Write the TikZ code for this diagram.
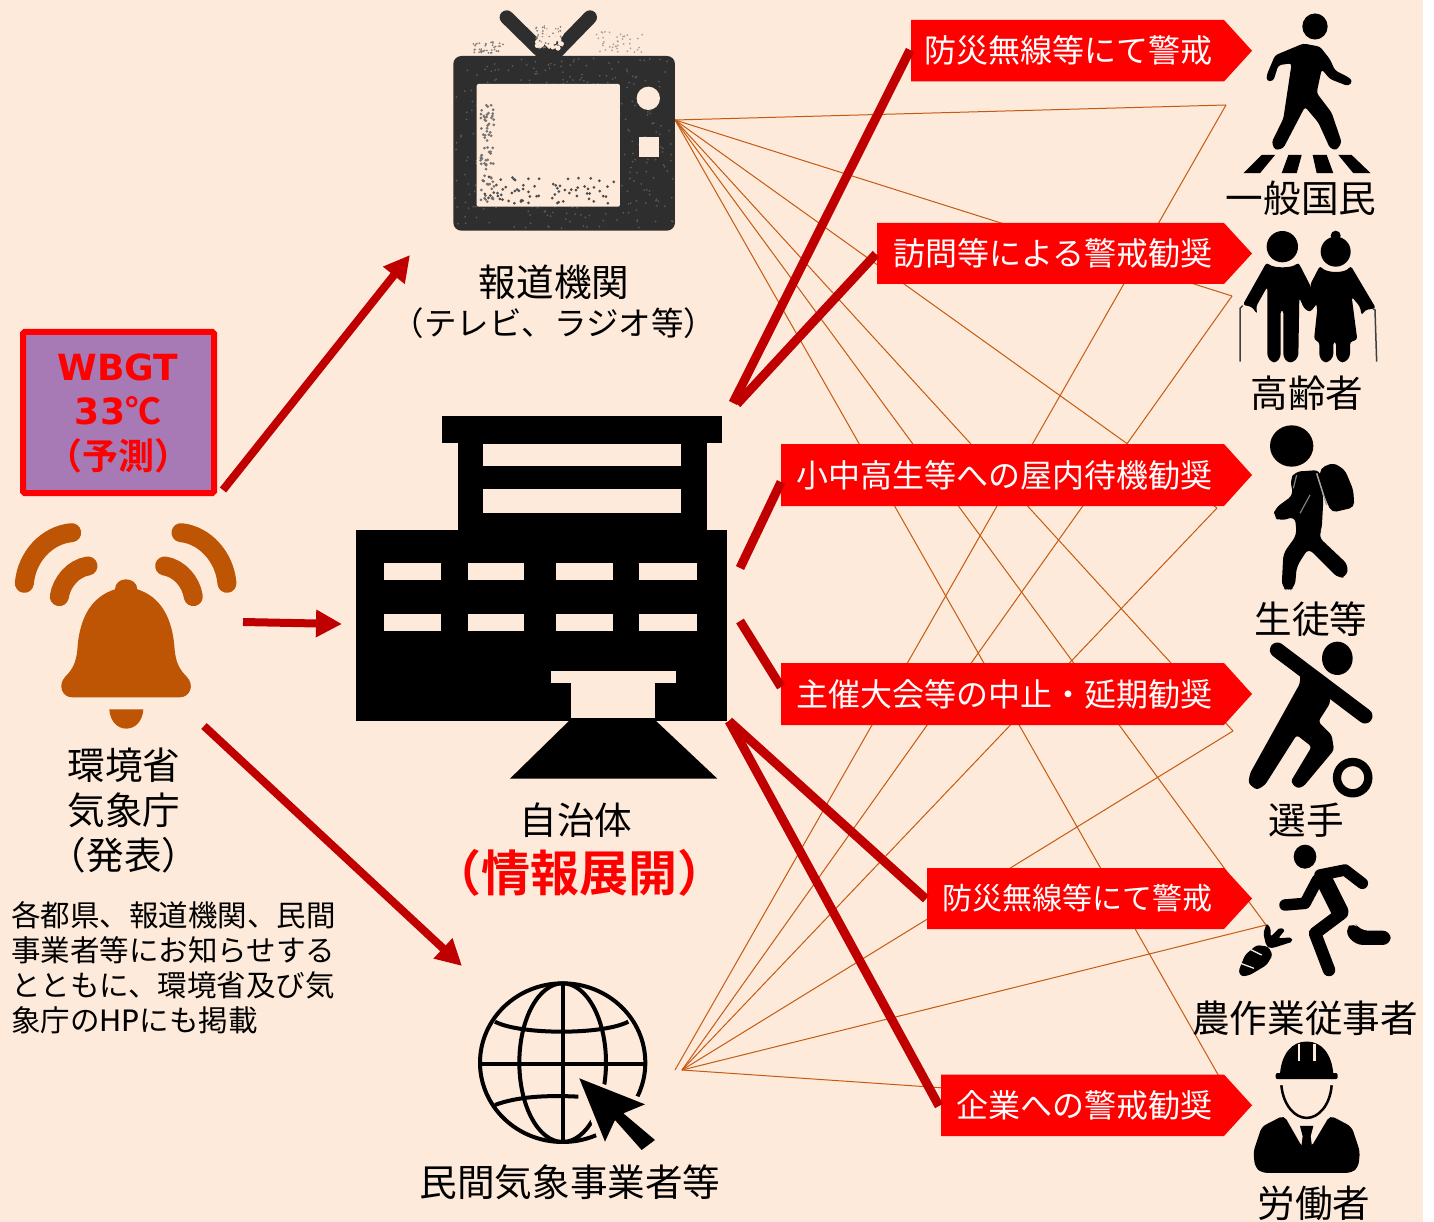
\documentclass[tikz,border=0pt]{standalone}
\usepackage{fontspec}
\setmainfont{Noto Sans CJK JP}[BoldFont={Noto Sans CJK JP Bold}]
\newfontfamily\latinb{DejaVu Sans Bold}
\newfontfamily\latinr{DejaVu Sans}
\usetikzlibrary{arrows.meta}
\definecolor{bgc}{HTML}{FDEADA}
\definecolor{thin}{HTML}{C55A11}
\definecolor{thick}{HTML}{C00000}
\definecolor{bell}{HTML}{BE5504}
\definecolor{purp}{HTML}{A779B5}
\definecolor{tvc}{HTML}{2E2E2E}
\newcommand{\fsz}[1]{\fontsize{#1}{#1}\selectfont}
\tikzset{
  x=1pt,y=-1pt,
  lab/.style={inner sep=0pt,font=\fsz{37.6},text=black},
  bantxt/.style={inner sep=0pt,anchor=east,text=white},
  thinl/.style={draw=thin,line width=1pt},
  thickl/.style={draw=thick,line width=9pt},
  arr/.style={draw=thick,line width=8pt,-{Triangle[length=26pt,width=26pt]}},
  para/.style={inner sep=0pt,anchor=west,font=\fsz{29.5},text=black},
  ico/.style={fill=black,line join=round},
  zoomed/.style={x=0.3333pt,y=-0.3333pt},
}
\newcommand{\banner}[5]{% name, left, top, bottom, size+text
  \fill[red] (#2,#3) -- (1224,#3) -- (1252,{(#3+#4)/2}) -- (1224,#4) -- (#2,#4) -- cycle;
  \node[bantxt] (#1) at (1213,{(#3+#4)/2}) {#5};
}
\begin{document}
\begin{tikzpicture}
\useasboundingbox (0,0) rectangle (1434,1222);
\fill[white] (0,0) rectangle (1434,1222);
\fill[bgc] (0,0) rectangle (1423,1222);

% connector end points
\coordinate (tvo) at (675,120);
\coordinate (webo) at (682,1070);
\coordinate (webp) at (675,1070);
\coordinate (d1) at (1226,105);
\coordinate (d2) at (1232,296);
\coordinate (d3) at (1217,508);
\coordinate (d4) at (1233,731);
\coordinate (d5) at (1266,925);
\coordinate (d6) at (1237,1108);

\foreach \d in {d1,d2,d3,d4,d5,d6} \draw[thinl] (tvo) -- (\d);
\draw[thinl] (webp) -- (d1);
\foreach \d in {d2,d3,d4,d5,d6} \draw[thinl] (webo) -- (\d);

% banners
\banner{b1}{911}{20}{81.5}{\fsz{32}防災無線等にて警戒}
\banner{b2}{877}{223}{284}{\fsz{32}訪問等による警戒勧奨}
\banner{b3}{781}{444}{506}{\fsz{32}小中高生等への屋内待機勧奨}
\banner{b4}{781}{663}{725}{\fsz{32}主催大会等の中止・延期勧奨}
\banner{b5}{927}{868}{929}{\fsz{30}防災無線等にて警戒}
\banner{b6}{941}{1074.5}{1136}{\fsz{32}企業への警戒勧奨}

% thick connectors
\coordinate (r1s) at (733,403); \coordinate (r1e) at (910,50);
\coordinate (r2s) at (737,404); \coordinate (r2e) at (876,254);
\coordinate (r3s) at (740,568); \coordinate (r3e) at (781,482);
\coordinate (r4s) at (740,621); \coordinate (r4e) at (781,687);
\coordinate (r5s) at (729,721); \coordinate (r5e) at (926,899);
\coordinate (r6e) at (939,1106);
\draw[thickl] (r1s) -- (r1e);
\draw[thickl] (r2s) -- (r2e);
\draw[thickl] (r3s) -- (r3e);
\draw[thickl] (r4s) -- (r4e);
\draw[thickl] (r5s) -- (r5e);
\draw[thickl] (r5s) -- (r6e);

% WBGT box
\node[draw=red,fill=purp,line width=6pt,rounded corners=1.5pt,minimum width=191pt,minimum height=161pt,inner sep=0pt] (wbgt) at (118.5,412.5) {};
\node[inner sep=0pt,text=red] (w1) at (118,367) {\latinb\fsz{36}WBGT};
\node[inner sep=0pt,text=red] (w2) at (118,411) {\latinb\fsz{36}33\normalfont\fsz{36}\textbf{℃}};
\node[inner sep=0pt,text=red] (w3) at (118,456) {\fsz{36}\textbf{（予測）}};

% red arrows
\coordinate (a1s) at (223,490); \coordinate (a1e) at (410,255);
\coordinate (a2s) at (243,622); \coordinate (a2e) at (342,624);
\coordinate (a3s) at (204,726); \coordinate (a3e) at (462,966);
\draw[arr] (a1s) -- (a1e);
\draw[arr] (a2s) -- (a2e);
\draw[arr] (a3s) -- (a3e);

% bell
\begin{scope}[shift={(0,320)},zoomed]
\fill[bell] (345,808) .. controls (345,790) and (360,778) .. (378,778)
  .. controls (396,778) and (412,790) .. (412,808)
  .. controls (480,830) and (518,890) .. (524,990)
  .. controls (528,1030) and (540,1050) .. (560,1070)
  .. controls (585,1095) and (570,1132) .. (540,1132)
  -- (216,1132)
  .. controls (186,1132) and (172,1095) .. (196,1070)
  .. controls (216,1050) and (228,1030) .. (232,990)
  .. controls (238,890) and (276,830) .. (345,808) -- cycle;
\fill[bell] (328,1168) -- (430,1168) .. controls (428,1205) and (405,1226) .. (379,1226)
  .. controls (353,1226) and (330,1205) .. (328,1168) -- cycle;
\draw[bell,line width=19pt,line cap=round] (73,790) .. controls (80,710) and (140,645) .. (215,638);
\draw[bell,line width=19pt,line cap=round] (178,830) .. controls (185,785) and (220,745) .. (264,738);
\draw[bell,line width=19pt,line cap=round] (681,790) .. controls (674,710) and (614,645) .. (543,638);
\draw[bell,line width=19pt,line cap=round] (580,830) .. controls (573,785) and (538,745) .. (494,738);
\end{scope}

% municipal building
\begin{scope}[shift={(340,400)},zoomed]
\fill[black] (305,48) rectangle (1145,130);
\fill[black] (355,130) rectangle (1100,390);
\fill[black] (48,390) rectangle (1162,962);
\fill[black] (690,960) -- (945,960) -- (1132,1136) -- (510,1136) -- cycle;
\fill[bgc] (430,132) rectangle (1022,198);
\fill[bgc] (430,268) rectangle (1022,338);
\foreach \xa/\xb in {133/303,383/553,647/820,897/1070}{
  \fill[bgc] (\xa,490) rectangle (\xb,540);
  \fill[bgc] (\xa,642) rectangle (\xb,692);
}
\fill[bgc] (632,812) rectangle (1008,848);
\fill[bgc] (692,848) rectangle (945,955);
\end{scope}

% television
\begin{scope}[shift={(440,0)},zoomed]
\pgfmathsetseed{7}
\draw[tvc,line width=14pt,line cap=round] (200,52) -- (315,165);
\draw[tvc,line width=14pt,line cap=round] (450,52) -- (340,165);
\foreach \i in {1,...,40}{
  \pgfmathsetmacro\px{100+90*rnd}\pgfmathsetmacro\py{125+35*rnd}
  \fill[gray] (\px,\py) circle[radius=3];
  \pgfmathsetmacro\px{470+140*rnd}\pgfmathsetmacro\py{95+65*rnd}
  \fill[gray!70] (\px,\py) circle[radius=3];
  \pgfmathsetmacro\px{285+85*rnd}\pgfmathsetmacro\py{75+70*rnd}
  \fill[bgc] (\px,\py) circle[radius=7];
  \pgfmathsetmacro\px{285+85*rnd}\pgfmathsetmacro\py{75+70*rnd}
  \fill[gray] (\px,\py) circle[radius=3];
}
\fill[tvc,rounded corners=8pt] (40,168) rectangle (705,692);
\foreach \i in {1,...,450}{
  \pgfmathsetmacro\px{45+655*rnd}\pgfmathsetmacro\py{175+510*rnd}
  \fill[gray!70!black] (\px,\py) circle[radius=3];
}
\fill[bgc,rounded corners=2pt] (110,252) rectangle (540,620);
\fill[bgc] (625,295) circle[radius=35];
\fill[bgc] (598,410) rectangle (658,470);
\foreach \i in {1,...,70}{
  \pgfmathsetmacro\px{122+40*rnd}\pgfmathsetmacro\py{295+310*rnd}
  \fill[black!55] (\px,\py) circle[radius=4.5];
  \pgfmathsetmacro\px{125+400*rnd}\pgfmathsetmacro\py{530+80*rnd}
  \fill[black!70] (\px,\py) circle[radius=4.5];
}
\end{scope}

% globe
\begin{scope}[shift={(460,970)},zoomed]
\draw[black,line width=4pt] (308,278) ellipse[x radius=248,y radius=238];
\draw[black,line width=4pt] (308,40) -- (308,516);
\draw[black,line width=4pt] (60,283) -- (552,283);
\draw[black,line width=4pt] (308,278) ellipse[x radius=130,y radius=238];
\draw[black,line width=4pt] (105,155) .. controls (180,195) and (430,195) .. (505,155);
\draw[black,line width=4pt] (105,405) .. controls (170,380) and (260,375) .. (355,380);
\fill[bgc] (340,310) -- (590,400) -- (520,430) -- (610,510) -- (545,560) -- (465,480) -- (425,540) -- cycle;
\fill[black] (358,325) -- (555,403) -- (490,430) -- (585,510) -- (545,540) -- (465,450) -- (435,515) -- cycle;
\end{scope}

% pedestrian
\begin{scope}[shift={(1220,0)},x=0.3333pt,y=-0.3954pt]
\fill (285,67) ellipse[x radius=38,y radius=33];
\fill[ico,rounded corners=3pt] (250,110) -- (300,118) -- (330,150) -- (345,178) -- (385,195) -- (398,205) -- (385,218) -- (330,200) -- (305,175) -- (290,235) -- (335,285) -- (365,360) -- (350,380) -- (330,375) -- (295,310) -- (255,270) -- (190,375) -- (165,380) -- (155,360) -- (190,300) -- (215,160) -- (175,165) -- (160,205) -- (140,205) -- (140,190) -- (165,140) -- cycle;
\fill (70,438) -- (125,392) -- (165,392) -- (120,438) -- cycle;
\fill (185,438) -- (205,392) -- (245,392) -- (230,438) -- cycle;
\fill (290,438) -- (278,392) -- (320,392) -- (340,438) -- cycle;
\fill (400,438) -- (355,392) -- (395,392) -- (452,438) -- cycle;
\end{scope}

% elderly couple
\begin{scope}[shift={(1230,225)},zoomed]
\fill (157,65) circle[radius=47];
\fill[ico,rounded corners=3pt] (110,112) .. controls (130,130) and (185,130) .. (205,112) -- (240,180) -- (262,235) -- (240,262) -- (222,250) -- (208,218) -- (205,395) -- (190,412) -- (172,412) -- (160,395) -- (160,255) -- (152,255) -- (152,395) -- (140,412) -- (125,412) -- (112,395) -- (112,185) -- (78,245) -- (82,268) -- (65,245) -- (38,240) -- cycle;
\fill (317,80) circle[radius=45];
\fill (317,32) circle[radius=15];
\fill[ico,rounded corners=3pt] (270,122) .. controls (290,145) and (345,145) .. (362,122) -- (438,250) -- (405,255) -- (395,272) -- (390,245) -- (365,215) -- (382,345) -- (360,350) -- (360,395) -- (345,412) -- (330,412) -- (318,395) -- (318,350) -- (310,350) -- (310,395) -- (295,412) -- (280,412) -- (268,395) -- (268,350) -- (252,345) -- (262,250) -- (240,180) -- cycle;
\draw[black!75,line width=1.5pt] (30,410) -- (30,250) -- (38,242);
\draw[black!75,line width=1.5pt] (440,410) -- (435,255) -- (428,250);
\end{scope}

% student
\begin{scope}[shift={(1255,420)},zoomed]
\fill (110,78) ellipse[x radius=65,y radius=62];
\fill[ico,rounded corners=5pt] (195,145) -- (235,128) -- (270,150) -- (295,210) -- (298,262) -- (230,278) -- (215,245) -- (195,200) -- cycle;
\fill[ico,rounded corners=6pt] (120,155) -- (195,150) -- (205,240) -- (200,330) -- (190,350) -- (280,435) -- (275,470) -- (250,475) -- (160,385) -- (125,440) -- (120,500) -- (100,515) -- (80,500) -- (85,400) -- (125,345) -- (120,290) -- (75,303) -- (55,290) -- (60,265) -- (115,225) -- (105,180) -- cycle;
\draw[black!35,line width=1.5pt] (185,160) -- (215,255);
\draw[black!50,line width=1.2pt] (125,165) -- (115,205);
\draw[black!50,line width=1.2pt] (165,225) -- (135,280);
\end{scope}

% athlete
\begin{scope}[shift={(1240,640)},zoomed]
\fill (292,55) ellipse[x radius=46,y radius=50];
\draw[black,line width=15pt,line cap=round] (112,30) -- (375,228);
\fill[ico,rounded corners=3pt] (180,85) -- (270,155) -- (270,190) -- (235,245) -- (275,285) -- (282,330) -- (190,440) -- (170,445) -- (152,425) -- (215,320) -- (170,285) -- (75,435) -- (50,450) -- (25,430) -- (30,400) -- (180,130) -- cycle;
\draw[black,line width=8.3pt] (338,413) circle[radius=47];
\end{scope}

% farmer: runner and carrot
\begin{scope}[shift={(1230,840)},zoomed]
\fill (225,50) ellipse[x radius=34,y radius=36];
\draw[black,line width=11.5pt,line cap=round,line join=round] (270,105) -- (345,90) -- (397,130);
\draw[black,line width=11.5pt,line cap=round,line join=round] (165,195) -- (225,190) -- (262,120);
\draw[black,line width=17pt,line cap=round] (280,115) -- (330,215);
\draw[black,line width=12.5pt,line cap=round,line join=round] (335,220) -- (255,280) -- (297,390);
\fill[ico,rounded corners=8pt] (372,245) -- (390,272) -- (482,272) -- (482,315) -- (375,315) -- (342,272) -- cycle;
\fill[ico,rounded corners=3pt] (25,395) -- (45,345) -- (80,315) -- (115,320) -- (128,345) -- (110,375) -- (60,405) -- (35,410) -- cycle;
\fill[ico,rounded corners=2pt] (108,315) -- (100,280) -- (110,250) -- (122,265) -- (122,290) -- (150,262) -- (165,270) -- (145,295) -- (185,292) -- (188,305) -- (135,322) -- (118,325) -- cycle;
\draw[bgc,line width=1.3pt] (55,325) -- (95,345);
\draw[bgc,line width=1.3pt] (32,370) -- (72,385);
\end{scope}

% worker
\begin{scope}[shift={(1220,620)},x=0.3333pt,y=-0.3839pt]
\fill (180,1182) .. controls (185,1130) and (215,1098) .. (260,1098) .. controls (305,1098) and (335,1130) .. (340,1182) -- cycle;
\fill[black,rounded corners=2pt] (167,1180) rectangle (353,1196);
\fill[bgc] (233,1105) -- (240,1105) -- (240,1150) -- (233,1150) -- cycle;
\fill[bgc] (280,1105) -- (287,1105) -- (287,1150) -- (280,1150) -- cycle;
\draw[black,line width=2.5pt] (184,1212) .. controls (190,1265) and (225,1297) .. (260,1297) .. controls (295,1297) and (330,1265) .. (335,1212);
\fill[ico,rounded corners=5pt] (100,1385) -- (125,1320) -- (192,1290) -- (248,1375) -- (272,1375) -- (330,1290) -- (395,1320) -- (420,1385) -- (415,1425) -- (395,1440) -- (125,1440) -- (105,1425) -- cycle;
\fill[black] (240,1318) -- (280,1318) -- (272,1345) -- (278,1385) -- (242,1385) -- (248,1345) -- cycle;
\end{scope}

% labels
\node[lab] (tvl) at (554,282) {報道機関};
\node[lab,font=\fsz{32.5}] (tvl2) at (554,323) {（テレビ、ラジオ等）};
\node[lab] (gov) at (576,820) {自治体};
\node[inner sep=0pt,text=red] (gov2) at (579,873) {\fsz{49}\textbf{（情報展開）}};
\node[lab] (moe) at (124,765) {環境省};
\node[lab] (jma) at (124,810) {気象庁};
\node[lab] (pub) at (124,855) {（発表）};
\node[para] (p1) at (11,915) {各都県、報道機関、民間};
\node[para] (p2) at (11,950) {事業者等にお知らせする};
\node[para] (p3) at (11,985) {とともに、環境省及び気};
\node[para] (p4) at (11,1020) {象庁の{\latinr HP}にも掲載};
\node[lab] (web) at (570,1182) {民間気象事業者等};
\node[lab] (t1) at (1301,198) {一般国民};
\node[lab] (t2) at (1307,393) {高齢者};
\node[lab] (t3) at (1311,619) {生徒等};
\node[lab] (t4) at (1306,820) {選手};
\node[lab] (t5) at (1305,1018) {農作業従事者};
\node[lab] (t6) at (1314,1203) {労働者};
\end{tikzpicture}
\end{document}
